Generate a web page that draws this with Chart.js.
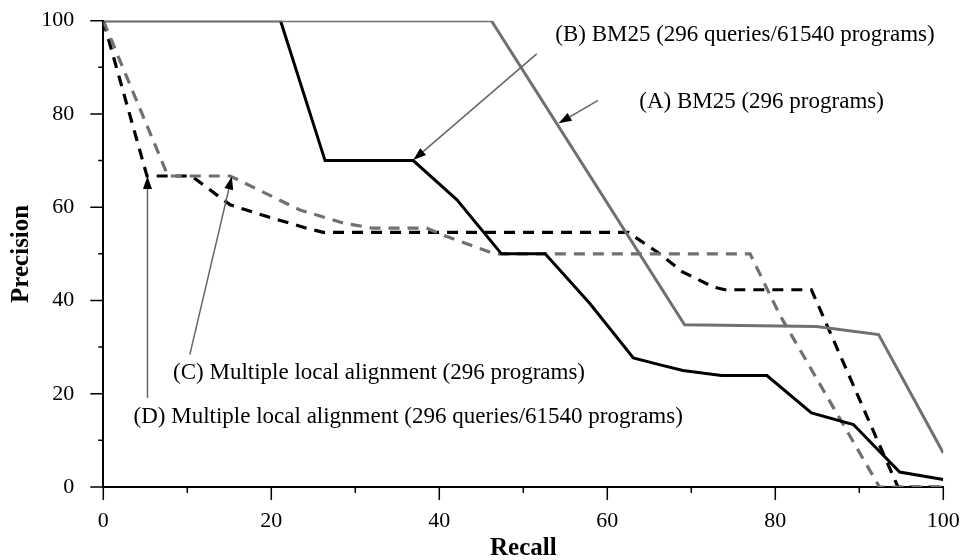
<!DOCTYPE html>
<html>
<head>
<meta charset="utf-8">
<script src="https://cdn.jsdelivr.net/npm/chart.js@4.4.1/dist/chart.umd.min.js"></script>
<style>
  html, body { margin: 0; padding: 0; background: #fff; }
  canvas { display: block; }
</style>
</head>
<body>
<canvas id="prChart" width="963" height="560"></canvas>
<script>
// tick labels
const xTicks = [0, 20, 40, 60, 80, 100];
const yTicks = [0, 20, 40, 60, 80, 100];
const minorTicks = [10, 30, 50, 70, 90];

// (A) BM25, 296 programs
const recallA = [0, 46.2, 69.2, 84.9, 92.3, 100];
const precisionA = [100, 100, 34.8, 34.4, 32.7, 7.3];

// (B) BM25, 296 queries / 61540 programs
const recallB = [0, 21.1, 26.4, 36.9, 42.1, 47.4, 52.6, 57.9, 63.1, 66.3, 69, 73.6, 79, 84.3, 89.3, 94.8, 100];
const precisionB = [100, 100, 70, 70, 61.6, 50, 50, 39.4, 27.7, 26.2, 25, 23.9, 23.9, 15.9, 13.4, 3.2, 1.6];

// (C) multiple local alignment, 296 programs
const recallC = [0, 7.7, 15.1, 23.4, 28.6, 32.1, 38.5, 40.9, 46.6, 77, 80.5, 92.4, 100];
const precisionC = [100, 66.7, 66.7, 59.4, 56.6, 55.5, 55.5, 53.7, 50, 50, 37, 0, 0];

// (D) multiple local alignment, 296 queries / 61540 programs
const recallD = [0, 5.2, 10.5, 15.1, 19.5, 24.2, 26.2, 62.5, 66.1, 68.9, 72.6, 74, 84.3, 94.6, 100];
const precisionD = [100, 66.7, 66.7, 60.5, 58, 55.5, 54.6, 54.6, 50.2, 46.2, 42.9, 42.3, 42.3, 0, 0];

const labelA = '(A) BM25 (296 programs)';
const labelB = '(B) BM25 (296 queries/61540 programs)';
const labelC = '(C) Multiple local alignment (296 programs)';
const labelD = '(D) Multiple local alignment (296 queries/61540 programs)';

function toPoints(xs, ys) {
    return xs.map((x, i) => ({ x: x, y: ys[i] }));
}

const GRAY = 'rgb(112,112,112)';
const serif = '"Liberation Serif", "Times New Roman", serif';

// text anchor (left, middle) and arrow tail -> tip, all in data units
const notes = [
    { text: labelB, tx: 53.8, ty: 96.9, from: [51.6, 92.9], to: [36.9, 70.1] },
    { text: labelA, tx: 63.8, ty: 82.6, from: [58.9, 82.9], to: [54.2, 78.0] },
    { text: labelC, tx: 8.3, ty: 24.4, from: [10.3, 28.4], to: [15.3, 66.6] },
    { text: labelD, tx: 3.6, ty: 15.1, from: [5.26, 19.1], to: [5.26, 66.7] }
];

const annotate = {
    id: 'annotate',
    afterDraw(chart) {
        const { ctx } = chart;
        const x = chart.scales.x, y = chart.scales.y;
        const left = chart.chartArea.left, bottom = chart.chartArea.bottom;
        ctx.save();

        // tick marks, long on labelled values, short in between
        ctx.strokeStyle = '#000';
        ctx.lineWidth = 1.5;
        ctx.beginPath();
        yTicks.forEach(v => { const p = y.getPixelForValue(v); ctx.moveTo(left - 13, p); ctx.lineTo(left, p); });
        minorTicks.forEach(v => { const p = y.getPixelForValue(v); ctx.moveTo(left - 5, p); ctx.lineTo(left, p); });
        xTicks.forEach(v => { const p = x.getPixelForValue(v); ctx.moveTo(p, bottom); ctx.lineTo(p, bottom + 13); });
        minorTicks.forEach(v => { const p = x.getPixelForValue(v); ctx.moveTo(p, bottom); ctx.lineTo(p, bottom + 6); });
        ctx.stroke();

        notes.forEach(n => {
            const x0 = x.getPixelForValue(n.from[0]), y0 = y.getPixelForValue(n.from[1]);
            const x1 = x.getPixelForValue(n.to[0]), y1 = y.getPixelForValue(n.to[1]);
            const ang = Math.atan2(y1 - y0, x1 - x0);
            const len = 13, half = 4.5;
            const bx = x1 - len * Math.cos(ang), by = y1 - len * Math.sin(ang);
            ctx.strokeStyle = 'rgb(100,100,100)';
            ctx.lineWidth = 1.5;
            ctx.beginPath();
            ctx.moveTo(x0, y0);
            ctx.lineTo(bx, by);
            ctx.stroke();
            ctx.fillStyle = '#000';
            ctx.beginPath();
            ctx.moveTo(x1, y1);
            ctx.lineTo(bx + half * Math.sin(ang), by - half * Math.cos(ang));
            ctx.lineTo(bx - half * Math.sin(ang), by + half * Math.cos(ang));
            ctx.closePath();
            ctx.fill();

            ctx.font = '23px ' + serif;
            ctx.textAlign = 'left';
            ctx.textBaseline = 'middle';
            ctx.fillText(n.text, x.getPixelForValue(n.tx), y.getPixelForValue(n.ty));
        });
        ctx.restore();
    }
};

const ctx = document.getElementById('prChart').getContext('2d');

const prChart = new Chart(ctx, {
    type: 'line',
    data: {
        datasets: [
            { label: labelA, data: toPoints(recallA, precisionA), borderColor: GRAY, borderWidth: 3 },
            { label: labelB, data: toPoints(recallB, precisionB), borderColor: '#000', borderWidth: 3 },
            { label: labelC, data: toPoints(recallC, precisionC), borderColor: GRAY, borderWidth: 3.2, borderDash: [11, 8] },
            { label: labelD, data: toPoints(recallD, precisionD), borderColor: '#000', borderWidth: 3.2, borderDash: [11, 8] }
        ]
    },
    options: {
        responsive: false,
        animation: false,
        elements: { point: { radius: 0 }, line: { tension: 0 } },
        layout: { padding: { top: 20.7, right: 19.7, left: 0, bottom: 0 } },
        plugins: { legend: { display: false }, tooltip: { enabled: false } },
        scales: {
            x: {
                type: 'linear',
                min: 0,
                max: 100,
                afterBuildTicks: s => { s.ticks = xTicks.map(v => ({ value: v })); },
                afterFit: s => { s.height = 73; s.paddingLeft = 0; s.paddingRight = 0; },
                grid: { display: false },
                border: { display: true, color: '#000', width: 2 },
                ticks: { color: '#000', padding: 13, maxRotation: 0, font: { family: serif, size: 22 } },
                title: { display: true, text: 'Recall', color: '#000', padding: { top: -4, bottom: -4 }, font: { family: serif, size: 25, weight: 'bold' } }
            },
            y: {
                min: 0,
                max: 100,
                afterBuildTicks: s => { s.ticks = yTicks.map(v => ({ value: v })); },
                afterFit: s => { s.width = 103.3; s.paddingTop = 0; s.paddingBottom = 0; },
                grid: { display: false },
                border: { display: true, color: '#000', width: 2 },
                ticks: { color: '#000', padding: 21, font: { family: serif, size: 22 } },
                title: { display: true, text: 'Precision', color: '#000', padding: { top: 7, bottom: 0 }, font: { family: serif, size: 25, weight: 'bold' } }
            }
        }
    },
    plugins: [annotate]
});
</script>
</body>
</html>
